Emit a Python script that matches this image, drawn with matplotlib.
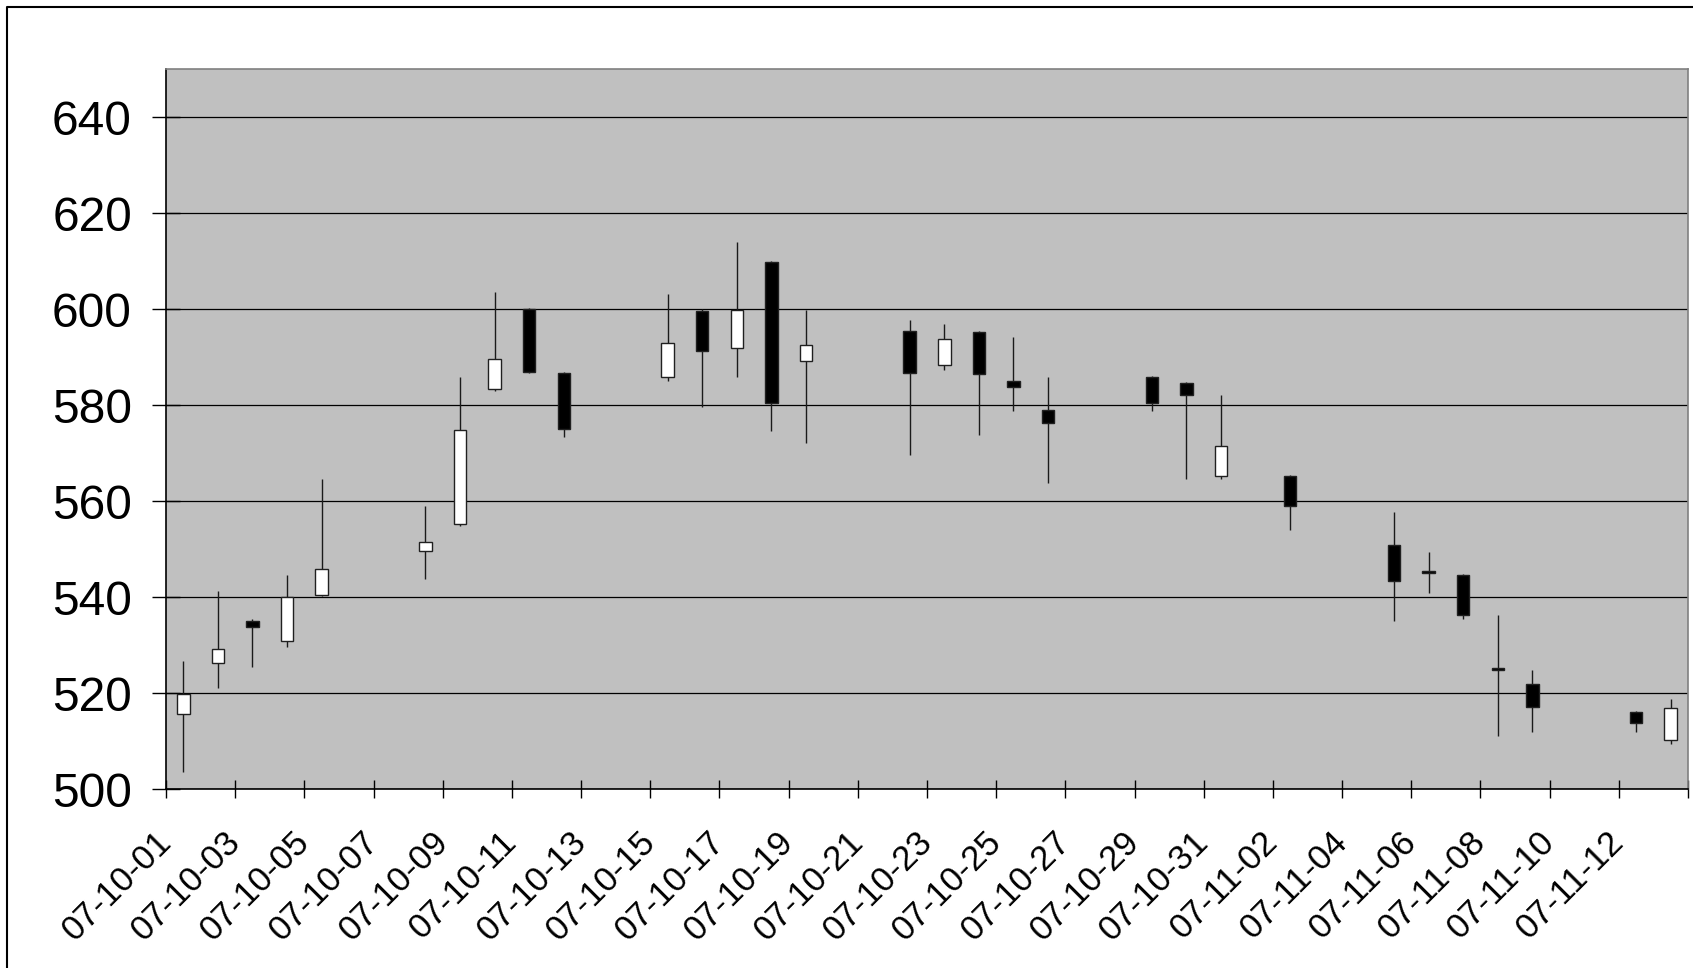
import pandas as pd
import matplotlib
matplotlib.use("Agg")
import matplotlib.pyplot as plt
import matplotlib.dates as mdates
from matplotlib.lines import Line2D

plt.rcParams['font.family'] = ['Liberation Sans', 'DejaVu Sans']

# daily prices
dates = ['2007-10-01', '2007-10-02', '2007-10-03', '2007-10-04', '2007-10-05',
         '2007-10-08', '2007-10-09', '2007-10-10', '2007-10-11', '2007-10-12',
         '2007-10-15', '2007-10-16', '2007-10-17', '2007-10-18', '2007-10-19',
         '2007-10-22', '2007-10-23', '2007-10-24', '2007-10-25', '2007-10-26',
         '2007-10-29', '2007-10-30', '2007-10-31', '2007-11-02', '2007-11-05',
         '2007-11-06', '2007-11-07', '2007-11-08', '2007-11-09', '2007-11-12',
         '2007-11-13']
opens = [515.6, 526.4, 535.1, 530.9, 540.5,
         549.6, 555.3, 583.3, 600.0, 586.7,
         585.8, 599.7, 592.0, 609.8, 589.1,
         595.5, 588.3, 595.3, 585.1, 578.9,
         585.9, 584.7, 565.2, 565.3, 550.8,
         545.4, 544.6, 525.1, 522.0, 516.2,
         510.3]
highs = [526.8, 541.2, 535.5, 544.6, 564.7,
         558.9, 585.8, 603.5, 600.3, 586.9,
         603.2, 600.0, 614.0, 610.0, 599.9,
         597.8, 597.0, 595.5, 594.1, 585.8,
         586.0, 584.9, 582.1, 565.5, 557.7,
         549.5, 544.8, 536.2, 524.8, 516.3,
         518.9]
lows = [503.7, 521.1, 525.4, 529.6, 540.2,
        543.7, 554.9, 582.9, 586.6, 573.4,
        585.0, 579.7, 585.9, 574.6, 572.1,
        569.6, 587.4, 573.8, 578.8, 563.8,
        578.8, 564.7, 564.7, 554.1, 535.0,
        540.8, 535.5, 511.1, 512.0, 512.0,
        509.5]
closes = [519.8, 529.3, 533.7, 540.0, 545.8,
          551.6, 574.9, 589.6, 587.0, 575.0,
          592.9, 591.2, 599.9, 580.4, 592.5,
          586.6, 593.8, 586.5, 583.7, 576.3,
          580.4, 582.1, 571.5, 558.9, 543.3,
          545.0, 536.2, 524.8, 517.2, 513.9,
          516.9]

y_ticks = [500, 520, 540, 560, 580, 600, 620, 640]

df = pd.DataFrame({'date': pd.to_datetime(dates), 'open': opens, 'high': highs,
                   'low': lows, 'close': closes})
# candles sit in the middle of each day slot
df['x'] = mdates.date2num(df['date'] + pd.Timedelta(hours=12))
df['up'] = df['close'] >= df['open']
df['bottom'] = df[['open', 'close']].min(axis=1)
df['height'] = (df['close'] - df['open']).abs().clip(lower=0.4)

W, H = 1693, 968
fig = plt.figure(figsize=(W / 100, H / 100), dpi=100, facecolor='white')
ax = fig.add_axes([166 / W, 1 - 789.3 / H, (1688 - 166) / W, (789.3 - 69) / H])
ax.set_facecolor('#c0c0c0')

# chart frame (only the top and left edges fall inside the image)
fig.add_artist(Line2D([7 / W, 7 / W, 1], [0, 1 - 7 / H, 1 - 7 / H],
                      transform=fig.transFigure, color='black', lw=1.5))

ax.set_axisbelow(True)
ax.yaxis.grid(True, color='black', lw=0.9)

ax.vlines(df['x'], df['low'], df['high'], color='#1a1a1a', lw=1.0, zorder=2)
ax.bar(df['x'], df['height'], bottom=df['bottom'], width=0.36,
       color=['white' if u else 'black' for u in df['up']],
       edgecolor='#202020', linewidth=1.0, zorder=3)

start = pd.Timestamp('2007-10-01')
end = pd.Timestamp('2007-11-14')
ax.set_xlim(mdates.date2num(start), mdates.date2num(end))
ax.set_ylim(500, 650)

tick_days = pd.date_range(start, end, freq='2D')
ax.set_xticks(mdates.date2num(tick_days))
labels = [d.strftime('%y-%m-%d') for d in tick_days]
labels[-1] = ''
ax.set_xticklabels(labels, rotation=45, ha='right', va='center',
                   rotation_mode='anchor', fontsize=25)
ax.set_yticks(y_ticks)
ax.set_yticklabels([str(v) for v in y_ticks], fontsize=34.5)

ax.tick_params(axis='x', direction='inout', length=13, width=1, pad=28)
ax.tick_params(axis='y', direction='inout', length=20, width=1, pad=14.5)

for side in ('left', 'bottom'):
    ax.spines[side].set_color('black')
    ax.spines[side].set_linewidth(1.2)
for side in ('top', 'right'):
    ax.spines[side].set_color('#808080')
    ax.spines[side].set_linewidth(1.2)

fig.savefig('out.png', dpi=100, facecolor='white')
